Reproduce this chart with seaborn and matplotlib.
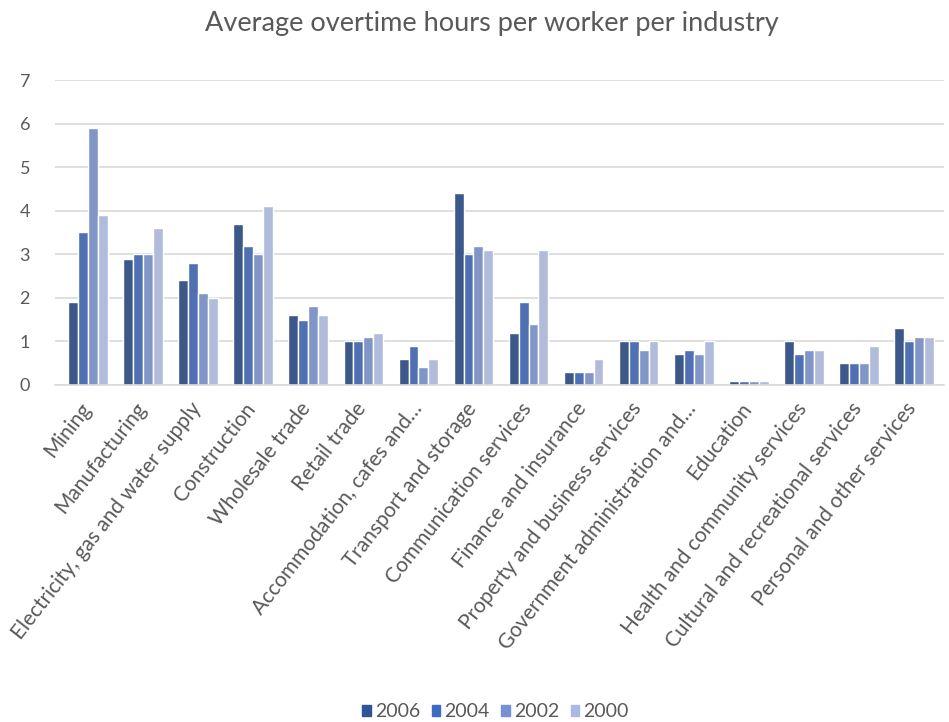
import numpy as np
import pandas as pd
import matplotlib
matplotlib.use("Agg")
import matplotlib.pyplot as plt
import matplotlib.transforms as mtransforms
import seaborn as sns

industries = [
    "Mining", "Manufacturing", "Electricity, gas and water supply", "Construction",
    "Wholesale trade", "Retail trade", "Accommodation, cafes and…",
    "Transport and storage", "Communication services", "Finance and insurance",
    "Property and business services", "Government administration and…",
    "Education", "Health and community services",
    "Cultural and recreational services", "Personal and other services",
]
years = ["2006", "2004", "2002", "2000"]
hours_2006 = [1.9, 2.9, 2.4, 3.7, 1.6, 1.0, 0.6, 4.4, 1.2, 0.3, 1.0, 0.7, 0.08, 1.0, 0.5, 1.3]
hours_2004 = [3.5, 3.0, 2.8, 3.2, 1.5, 1.0, 0.9, 3.0, 1.9, 0.3, 1.0, 0.8, 0.08, 0.7, 0.5, 1.0]
hours_2002 = [5.9, 3.0, 2.1, 3.0, 1.8, 1.1, 0.4, 3.2, 1.4, 0.3, 0.8, 0.7, 0.08, 0.8, 0.5, 1.1]
hours_2000 = [3.9, 3.6, 2.0, 4.1, 1.6, 1.2, 0.6, 3.1, 3.1, 0.6, 1.0, 1.0, 0.08, 0.8, 0.9, 1.1]
colors = ["#2F5597", "#3E6BC2", "#7591D3", "#AAB9E3"]

frames = []
for yr, vals in zip(years, [hours_2006, hours_2004, hours_2002, hours_2000]):
    frames.append(pd.DataFrame({"Industry": industries, "Year": yr, "Hours": vals}))
df = pd.concat(frames, ignore_index=True)

sns.set_theme(style="white")
plt.rcParams["font.family"] = ["Lato", "DejaVu Sans"]

fig = plt.figure(figsize=(9.49, 7.22), dpi=100)
ax = fig.add_axes([0.058, 0.467, 0.937, 0.422])

sns.barplot(data=df, x="Industry", y="Hours", hue="Year", hue_order=years,
            palette=colors, width=0.72, edgecolor="white", linewidth=1.0,
            errorbar=None, ax=ax)

ax.set_ylim(0, 7)
ax.set_yticks(range(0, 8))
ax.yaxis.grid(True, color="#D9D9D9", linewidth=1.2)
ax.set_axisbelow(True)
for s in ["top", "right", "left"]:
    ax.spines[s].set_visible(False)
ax.spines["bottom"].set_color("#D9D9D9")
ax.spines["bottom"].set_linewidth(1.2)
ax.set_xlim(-0.6, len(industries) - 0.45)
ax.set_xlabel("")
ax.set_ylabel("")
ax.tick_params(axis="y", labelsize=13, colors="#595959", length=0, pad=18)
ax.tick_params(axis="x", labelsize=15, colors="#595959", length=0, pad=10)
shift = mtransforms.ScaledTranslation(-9 / 100, 0, fig.dpi_scale_trans)
for lbl in ax.get_xticklabels():
    lbl.set_rotation(52)
    lbl.set_ha("right")
    lbl.set_rotation_mode("anchor")
    lbl.set_transform(lbl.get_transform() + shift)

ax.legend_.remove()
handles = [plt.Rectangle((0, 0), 1, 1, color=c) for c in colors]
fig.legend(handles, years, loc="lower center", bbox_to_anchor=(0.522, -0.022), ncol=4,
           frameon=False, fontsize=14, handlelength=0.45, handleheight=0.45,
           handletextpad=0.2, columnspacing=0.6, labelcolor="#595959")

fig.suptitle("Average overtime hours per worker per industry", x=0.518, y=0.985,
             fontsize=19.5, color="#595959")

fig.savefig("out.png", dpi=100)
